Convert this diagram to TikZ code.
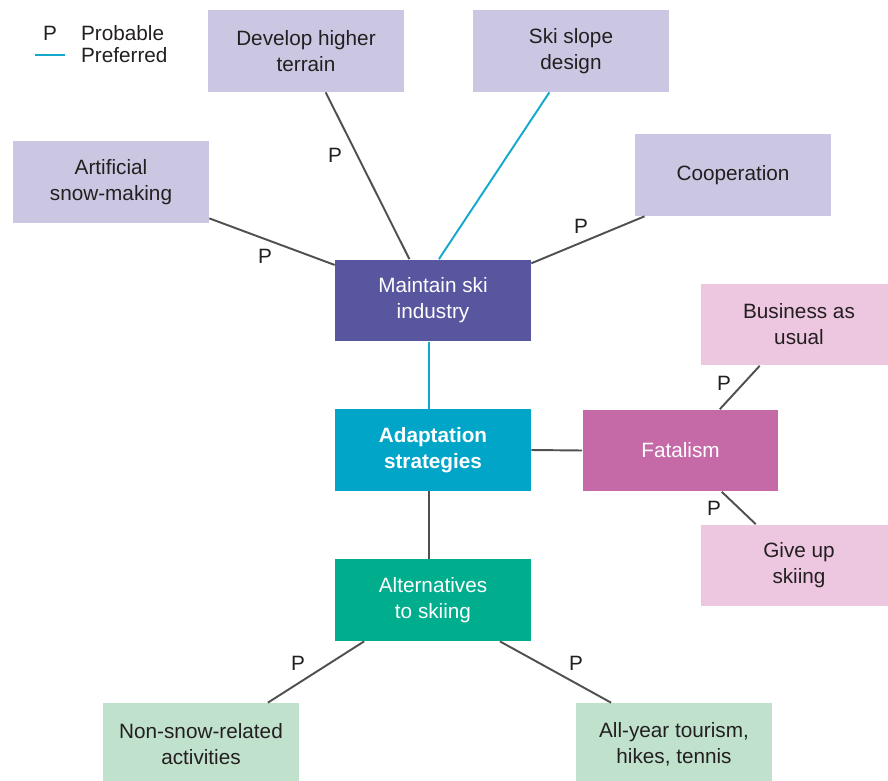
\documentclass[tikz,border=0pt]{standalone}
\usepackage{fontspec}
\setmainfont{Liberation Sans}
\usepackage{tikz}
\usetikzlibrary{calc}
\definecolor{figline}{RGB}{80,80,80}
\definecolor{figtext}{RGB}{35,31,32}
\definecolor{figpref}{RGB}{20,168,204}
\definecolor{boxlilac}{RGB}{203,199,226}
\definecolor{boxviolet}{RGB}{89,86,160}
\definecolor{boxcyan}{RGB}{0,165,200}
\definecolor{boxmagenta}{RGB}{198,106,167}
\definecolor{boxpink}{RGB}{237,198,224}
\definecolor{boxgreen}{RGB}{0,174,142}
\definecolor{boxmint}{RGB}{192,226,204}
\tikzset{
  box/.style  ={minimum width=3.92cm, minimum height=1.64cm, align=center, inner sep=2pt,
                text=figtext, font=\fontsize{11.8}{14.8}\selectfont},
  boxb/.style ={box, font=\fontsize{11.8}{14.8}\selectfont\bfseries},
  lnk/.style  ={draw=figline, line width=1.1pt},
  prf/.style  ={draw=figpref, line width=1.1pt},
  pl/.style   ={text=figtext, font=\fontsize{11.8}{14.8}\selectfont, inner sep=1pt},
}

\begin{document}
\begin{tikzpicture}[x=0.02cm,y=-0.02cm]
  \path[use as bounding box,clip] (0,0) rectangle (888,780);
  % key
  \node[pl] (pkey) at (50,33) {P};
  \node[pl,anchor=west] (pname) at (79,33) {Probable};
  \coordinate (fa) at (35,55);
  \coordinate (fb) at (65,55);
  \draw[prf] (fa) -- (fb);
  \node[pl,anchor=west] (fname) at (79,55) {Preferred};
  % boxes
  \node[box,fill=boxlilac] (terrain) at (306,51) {Develop higher\\terrain};
  \node[box,fill=boxlilac] (slope) at (571,51) {Ski slope\\design};
  \node[box,fill=boxlilac] (snow) at (111,182) {Artificial\\snow-making};
  \node[box,fill=boxlilac] (coop) at (733,175) {Cooperation};
  \node[box,fill=boxviolet,text=white] (maint) at (433,300.5) {Maintain ski\\industry};
  \node[boxb,fill=boxcyan,text=white] (adapt) at (433,450) {Adaptation\\strategies};
  \node[box,fill=boxmagenta,text=white] (fatal) at (680.5,450.5) {Fatalism};
  \node[box,fill=boxpink] (usual) at (799,324.5) {Business as\\usual};
  \node[box,fill=boxpink] (giveup) at (799,565.5) {Give up\\skiing};
  \node[box,fill=boxgreen,text=white] (alt) at (433,600) {Alternatives\\to skiing};
  \node[box,fill=boxmint] (nonsnow) at (201,744) {Non-snow-related\\activities};
  \node[box,fill=boxmint] (allyear) at (674,744) {All-year tourism,\\hikes, tennis};
  % links
  \draw[lnk] ($(terrain.south west)!0.60!(terrain.south east)$) -- ($(maint.north west)!0.38!(maint.north east)$);
  \draw[prf] ($(slope.south west)!0.39!(slope.south east)$) -- ($(maint.north west)!0.53!(maint.north east)$);
  \draw[lnk] ($(snow.north east)!0.94!(snow.south east)$) -- ($(maint.north west)!0.07!(maint.south west)$);
  \draw[lnk] ($(coop.south west)!0.05!(coop.south east)$) -- ($(maint.north east)!0.05!(maint.south east)$);
  \draw[prf] ($(maint.south west)!0.48!(maint.south east)$) -- ($(adapt.north west)!0.48!(adapt.north east)$);
  \draw[lnk] (adapt.east) -- (fatal.west);
  \draw[lnk] ($(adapt.south west)!0.48!(adapt.south east)$) -- ($(alt.north west)!0.48!(alt.north east)$);
  \draw[lnk] ($(fatal.north west)!0.70!(fatal.north east)$) -- ($(usual.south west)!0.30!(usual.south east)$);
  \draw[lnk] ($(fatal.south west)!0.71!(fatal.south east)$) -- ($(giveup.north west)!0.28!(giveup.north east)$);
  \draw[lnk] ($(alt.south west)!0.15!(alt.south east)$) -- ($(nonsnow.north west)!0.84!(nonsnow.north east)$);
  \draw[lnk] ($(alt.south west)!0.84!(alt.south east)$) -- ($(allyear.north west)!0.18!(allyear.north east)$);
  % probable marks
  \node[pl] (p1) at (335,155) {P};
  \node[pl] (p2) at (265,256) {P};
  \node[pl] (p3) at (581,226) {P};
  \node[pl] (p4) at (724,383) {P};
  \node[pl] (p5) at (714,508) {P};
  \node[pl] (p6) at (298,663) {P};
  \node[pl] (p7) at (576,663) {P};
\end{tikzpicture}
\end{document}
